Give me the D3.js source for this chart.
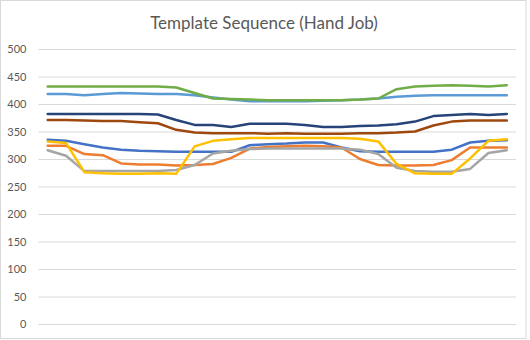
<!DOCTYPE html>
<html><head><meta charset="utf-8">
<script src="https://cdn.jsdelivr.net/npm/d3@7"></script>
<style>body{margin:0;background:#fff}svg{display:block}</style>
</head><body>
<svg id="c" width="530" height="340"></svg>
<script>
const title = "Template Sequence (Hand Job)";
const yTicks = [0, 50, 100, 150, 200, 250, 300, 350, 400, 450, 500];
const categories = d3.range(1, 27);
const seriesNames = ["S1","S2","S3","S4","S5","S6","S7","S8"];
const colors = ["#4472C4","#ED7D31","#A5A5A5","#FFC000","#5B9BD5","#70AD47","#264478","#9E480E"];
const s1 = [335,333,327,321,317,315,314,313,313,313,313,325,327,328,330,330,321,314,313,313,313,313,317,330,333,334];
const s2 = [324,324,309,307,292,290,290,288,289,291,302,319,322,323,324,323,321,300,289,288,288,289,298,321,321,321];
const s3 = [316,306,278,278,278,278,278,280,289,310,315,318,319,319,319,319,319,317,309,284,278,277,277,282,311,316];
const s4 = [332,329,276,274,273,273,274,273,323,333,336,338,338,338,338,338,338,337,332,291,274,273,273,301,333,336];
const s5 = [418,418,416,418,420,419,418,418,416,412,408,405,405,405,405,406,407,408,410,413,415,416,416,416,416,416];
const s6 = [432,432,432,432,432,432,432,430,420,410,409,408,407,407,407,407,407,408,410,427,432,433,434,433,432,434];
const s7 = [382,382,382,382,382,382,381,371,362,362,358,364,364,364,362,358,358,360,361,363,368,378,380,382,380,382];
const s8 = [371,371,370,369,369,367,365,353,348,347,347,347,346,347,346,346,346,347,347,348,350,361,368,370,370,370];
const allSeries = [s1,s2,s3,s4,s5,s6,s7,s8];

const svg = d3.select("#c");
svg.append("rect").attr("x",0.5).attr("y",0.5).attr("width",525.5).attr("height",338)
  .attr("fill","#fff").attr("stroke","#D9D9D9").attr("stroke-width",1);

const x = d3.scaleBand().domain(categories).range([38.5, 516]);
const y = d3.scaleLinear().domain([0, 500]).range([324, 49]);

svg.append("text").attr("x", 264).attr("y", 29).attr("text-anchor","middle")
  .attr("font-family","Lato, 'Open Sans', sans-serif").attr("font-size",17)
  .attr("fill","#595959").text(title);

const yAxis = d3.axisLeft(y).tickValues(yTicks).tickSize(-(516-38.5)).tickPadding(12);
const ga = svg.append("g").attr("transform","translate(38.5,0)").call(yAxis);
ga.select(".domain").remove();
ga.selectAll(".tick line").attr("stroke","#D9D9D9").attr("stroke-width",1);
ga.selectAll(".tick text").attr("fill","#595959").attr("font-size",11)
  .attr("font-family","Lato, 'Open Sans', sans-serif");

const line = d3.line().x((d,i)=>x(categories[i]) + x.bandwidth()/2).y(d=>y(d));
allSeries.forEach((s,k)=>{
  svg.append("path").datum(s).attr("d", line).attr("fill","none")
    .attr("stroke", colors[k]).attr("stroke-width",2.5)
    .attr("stroke-linejoin","round").attr("stroke-linecap","round");
});
</script>
</body></html>
